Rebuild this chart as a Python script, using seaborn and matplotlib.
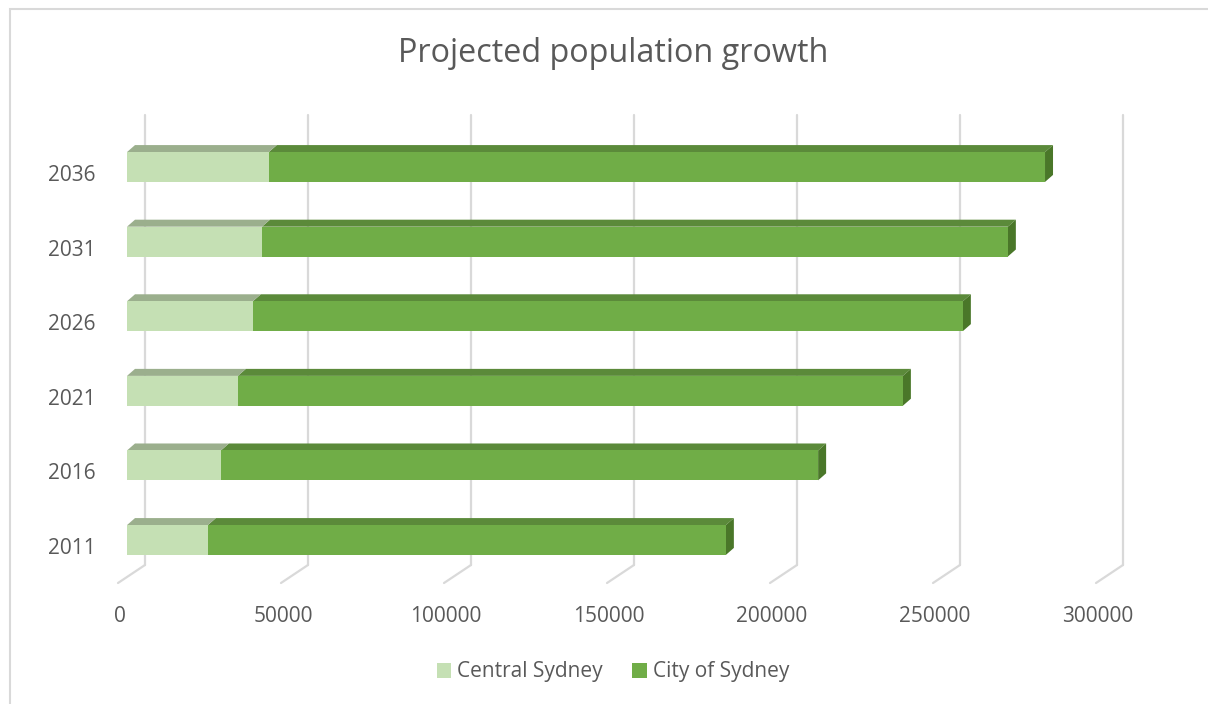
import numpy as np
import pandas as pd
import matplotlib
matplotlib.use("Agg")
import matplotlib.pyplot as plt
import seaborn as sns
from matplotlib.patches import Polygon, Rectangle, Patch
from matplotlib.lines import Line2D
from matplotlib.transforms import IdentityTransform, ScaledTranslation

# ---- data ----
years = ["2036", "2031", "2026", "2021", "2016", "2011"]
central_sydney = [43500, 41400, 38600, 34000, 28800, 24800]
city_of_sydney = [238100, 228800, 217800, 204000, 183200, 158900]
x_ticks = [0, 50000, 100000, 150000, 200000, 250000, 300000]
title = "Projected population growth"
series_names = ["Central Sydney", "City of Sydney"]

# ---- style ----
sns.set_theme(style="white")
plt.rcParams["font.family"] = ["Open Sans", "DejaVu Sans"]
TXT = "#595959"
LIGHT = "#C5E0B4"
LIGHT_TOP = "#9BAF8D"
DARK = "#70AD47"
DARK_TOP = "#5B8A3A"
DARK_SIDE = "#4A7729"
GRID = "#D9D9D9"

W, H = 1208, 704
fig = plt.figure(figsize=(W / 100, H / 100), dpi=100)
fig.patch.set_facecolor("white")

# axes placed so that the front plane of the bars matches
x0_px, x1_px = 127, 127 + 163 * 6
y_top_px, y_bot_px = 167 - 37.3, 540 + 37.3
ax = fig.add_axes([x0_px / W, 1 - y_bot_px / H, (x1_px - x0_px) / W, (y_bot_px - y_top_px) / H])
ax.set_facecolor("none")

df = pd.DataFrame({
    "year": years,
    "central": central_sydney,
    "city": city_of_sydney,
})
df["total"] = df["central"] + df["city"]

bar_w = 0.40
sns.barplot(data=df, x="total", y="year", order=years, orient="h", color=DARK,
            saturation=1, width=bar_w, ax=ax, zorder=3, linewidth=0, edgecolor="none")
sns.barplot(data=df, x="central", y="year", order=years, orient="h", color=LIGHT,
            saturation=1, width=bar_w, ax=ax, zorder=3, linewidth=0, edgecolor="none")

ax.set_xlim(0, 300000)
ax.set_ylim(5.5, -0.5)
for s in ax.spines.values():
    s.set_visible(False)
ax.set_xlabel("")
ax.set_ylabel("")
ax.set_xticks(x_ticks)
ax.set_xticklabels([str(t) for t in x_ticks])
ax.tick_params(axis="both", length=0, colors=TXT, labelsize=15)
ax.tick_params(axis="x", pad=21)
ax.tick_params(axis="y", pad=22.5)
for lab in ax.get_xticklabels():
    lab.set_transform(lab.get_transform() + ScaledTranslation(-7 / 100, 0, fig.dpi_scale_trans))
for lab in ax.get_yticklabels():
    lab.set_transform(lab.get_transform() + ScaledTranslation(0, -6 / 100, fig.dpi_scale_trans))

fig.canvas.draw()
ident = IdentityTransform()
dx, dy = 8, 7

# back-wall gridlines and floor ticks
for t in x_ticks:
    px = ax.transData.transform((t, 0))[0]
    ax.add_line(Line2D([px + 18, px + 18], [H - 565, H - 115], color=GRID, lw=1.6,
                       transform=ident, clip_on=False, zorder=0))
    ax.add_line(Line2D([px - 9, px + 18], [H - 583, H - 565], color=GRID, lw=1.6,
                       transform=ident, clip_on=False, zorder=0))

# 3D faces for each bar
for i, (c, tot) in enumerate(zip(df["central"], df["total"])):
    (xa, yt), (xb, yb) = ax.transData.transform([(0, i - bar_w / 2), (tot, i + bar_w / 2)])
    xc = ax.transData.transform((c, 0))[0]
    top_y = max(yt, yb)
    bot_y = min(yt, yb)
    ax.add_patch(Polygon([(xc, top_y), (xb, top_y), (xb + dx, top_y + dy), (xc + dx, top_y + dy)],
                         closed=True, facecolor=DARK_TOP, edgecolor="none",
                         transform=ident, clip_on=False, zorder=2))
    ax.add_patch(Polygon([(xa, top_y), (xc, top_y), (xc + dx, top_y + dy), (xa + dx, top_y + dy)],
                         closed=True, facecolor=LIGHT_TOP, edgecolor="none",
                         transform=ident, clip_on=False, zorder=2))
    ax.add_patch(Polygon([(xb, top_y), (xb + dx, top_y + dy), (xb + dx, bot_y + dy), (xb, bot_y)],
                         closed=True, facecolor=DARK_SIDE, edgecolor="none",
                         transform=ident, clip_on=False, zorder=2))

# title
fig.text(613 / W, 1 - 54 / H, title, ha="center", va="center", fontsize=23.3, color=TXT)

# legend
handles = [Patch(facecolor=LIGHT, edgecolor="none"), Patch(facecolor=DARK, edgecolor="none")]
fig.legend(handles, series_names, loc="center", bbox_to_anchor=(613 / W, 1 - 672 / H),
           ncol=2, frameon=False, fontsize=15, labelcolor=TXT, handlelength=0.7,
           handleheight=0.7, handletextpad=0.3, columnspacing=1.4)

# chart border (left and top edges visible)
fig.add_artist(Rectangle((10, -20), W + 20, H - 9 + 20, transform=None, fill=False,
                         edgecolor=GRID, lw=1.5, clip_on=False))

fig.savefig("out.png", dpi=100)
